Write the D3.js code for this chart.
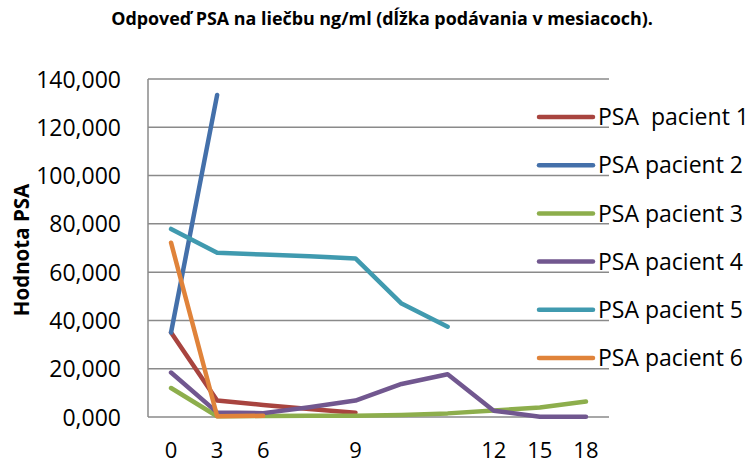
<!DOCTYPE html>
<html>
<head>
<meta charset="utf-8">
<script src="https://cdn.jsdelivr.net/npm/d3@7"></script>
<style>
  html, body { margin: 0; padding: 0; background: #fff; }
  svg { display: block; }
</style>
</head>
<body>
<svg id="chart" width="749" height="465"></svg>
<script>
// ---- data ----
const categories = ["0", "3", "6", "", "9", "", "", "12", "15", "18"];
const seriesNames = ["PSA  pacient 1", "PSA pacient 2", "PSA pacient 3", "PSA pacient 4", "PSA pacient 5", "PSA pacient 6"];
const pacient1 = [35.0, 6.8, 5.0, 3.3, 1.8, null, null, null, null, null];
const pacient2 = [35.0, 133.4, null, null, null, null, null, null, null, null];
const pacient3 = [12.0, 0.3, 0.4, 0.5, 0.5, 0.8, 1.5, 2.7, 3.9, 6.4];
const pacient4 = [18.4, 1.9, 1.6, 4.0, 6.8, 13.7, 17.7, 2.6, 0.1, 0.1];
const pacient5 = [77.9, 68.0, 67.3, 66.6, 65.7, 47.0, 37.4, null, null, null];
const pacient6 = [72.2, 0.3, 0.5, null, null, null, null, null, null, null];
const yTicks = [0, 20, 40, 60, 80, 100, 120, 140];
const colors = ["#A8443F", "#4470AA", "#8DAE4C", "#71578F", "#409AAF", "#E0833A"];

const seriesValues = [pacient1, pacient2, pacient3, pacient4, pacient5, pacient6];

const svg = d3.select("#chart");
const FONT = "'Open Sans', 'Noto Sans', sans-serif";

const plot = { left: 148, right: 609, top: 79, bottom: 417 };

const x = d3.scaleBand().domain(d3.range(categories.length)).range([plot.left, plot.right]);
const y = d3.scaleLinear().domain([0, 140]).range([plot.bottom, plot.top]);

// gridlines
svg.append("g").selectAll("line").data(yTicks).join("line")
  .attr("x1", plot.left).attr("x2", plot.right)
  .attr("y1", d => y(d)).attr("y2", d => y(d))
  .attr("stroke", "#8a8a8a").attr("stroke-width", 1.5);

// y axis line
svg.append("line")
  .attr("x1", plot.left).attr("x2", plot.left)
  .attr("y1", plot.top).attr("y2", plot.bottom)
  .attr("stroke", "#8a8a8a").attr("stroke-width", 1.5);

// y axis tick labels
const fmt = d => d3.format(",")(d) + ",000";
const yAxis = d3.axisLeft(y).tickValues(yTicks).tickSize(0).tickPadding(0).tickFormat(fmt);
const gy = svg.append("g").attr("transform", `translate(${121},0)`).call(yAxis);
gy.select(".domain").remove();
gy.selectAll("text").attr("font-family", FONT).attr("font-size", 23).attr("fill", "#000")
  .attr("dy", "0.35em");

// x axis labels
const xAxis = d3.axisBottom(x).tickSize(0).tickPadding(0).tickFormat(i => categories[i]);
const gx = svg.append("g").attr("transform", `translate(0,${458})`).call(xAxis);
gx.select(".domain").remove();
gx.selectAll("text").attr("font-family", FONT).attr("font-size", 22).attr("fill", "#000")
  .attr("y", 0).attr("dy", "0");

// lines
const line = d3.line()
  .defined(d => d.v !== null)
  .x(d => x(d.i) + x.bandwidth() / 2)
  .y(d => y(d.v));

seriesValues.forEach((vals, si) => {
  const pts = vals.map((v, i) => ({ i, v }));
  svg.append("path")
    .datum(pts)
    .attr("d", line)
    .attr("fill", "none")
    .attr("stroke", colors[si])
    .attr("stroke-width", 4.5)
    .attr("stroke-linejoin", "round")
    .attr("stroke-linecap", "round");
});

// legend
const legY = d3.scaleLinear().domain([0, 5]).range([117, 358]);
const leg = svg.append("g").selectAll("g").data(seriesNames).join("g")
  .attr("transform", (d, i) => `translate(0,${legY(i)})`);
leg.append("line")
  .attr("x1", 539).attr("x2", 593).attr("y1", 0).attr("y2", 0)
  .attr("stroke", (d, i) => colors[i]).attr("stroke-width", 4.5).attr("stroke-linecap", "round");
leg.append("text")
  .attr("x", 598).attr("y", 0).attr("dy", "0.36em")
  .attr("font-family", FONT).attr("font-size", 23).attr("fill", "#000")
  .style("white-space", "pre")
  .text(d => d);

// y axis title
svg.append("text")
  .attr("transform", `translate(29,250) rotate(-90)`)
  .attr("text-anchor", "middle")
  .attr("font-family", FONT).attr("font-weight", "bold").attr("font-size", 20.5)
  .attr("fill", "#000")
  .text("Hodnota PSA");

// title
const title = svg.append("text")
  .attr("x", 382).attr("y", 25)
  .attr("text-anchor", "middle")
  .attr("font-family", FONT).attr("font-weight", "bold").attr("font-size", 16)
  .attr("fill", "#000")
  .text("Odpoveď PSA na liečbu ng/ml (dĺžka podávania v mesiacoch).");
// fit title to reference width
const tw = title.node().getComputedTextLength();
title.attr("font-size", 16 * 542 / tw);
</script>
</body>
</html>
